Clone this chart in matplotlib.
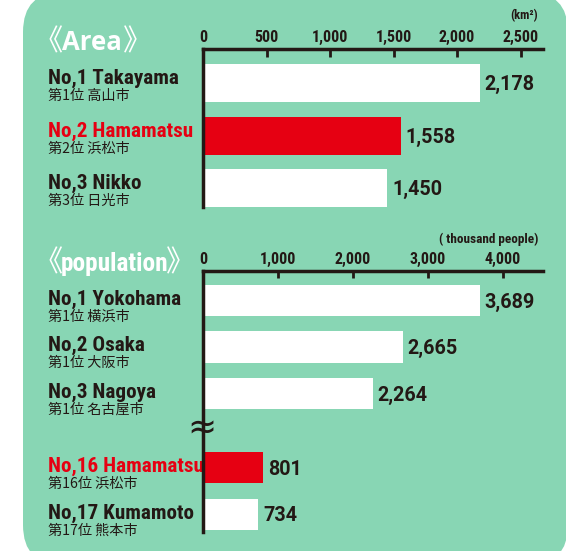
import matplotlib
matplotlib.use("Agg")
import matplotlib.pyplot as plt
import matplotlib.transforms as mtransforms
from matplotlib.patches import FancyBboxPatch
from matplotlib import font_manager as fm

# ---------------- data ----------------
area_title = "Area"
area_unit = "(km²)"
area_names = ["No,1 Takayama", "No,2 Hamamatsu", "No,3 Nikko"]
area_names_jp = ["第1位 高山市", "第2位 浜松市", "第3位 日光市"]
area_values = [2178, 1558, 1450]
area_ticks = [0, 500, 1000, 1500, 2000, 2500]
area_highlight = [False, True, False]

pop_title = "population"
pop_unit = "( thousand people)"
pop_names = ["No,1 Yokohama", "No,2 Osaka", "No,3 Nagoya", "No,16 Hamamatsu", "No,17 Kumamoto"]
pop_names_jp = ["第1位 横浜市", "第1位 大阪市", "第1位 名古屋市", "第16位 浜松市", "第17位 熊本市"]
pop_values = [3689, 2665, 2264, 801, 734]
pop_ticks = [0, 1000, 2000, 3000, 4000]
pop_highlight = [False, False, False, True, False]

# ---------------- style ----------------
W, H, DPI = 566, 551, 100
GREEN = "#88D6B4"
DARK = "#231815"
RED = "#E60012"


def _is_bold(f):
    w = f.weight
    if isinstance(w, str):
        return "bold" in w.lower() or w.lower() in ("heavy", "black")
    return w >= 600


def _is_narrow(f):
    return (f.stretch in ("condensed", "semi-condensed", "extra-condensed")
            or "Narrow" in f.name or "Condensed" in f.name)


def pick_narrow():
    prefs = ["Roboto Condensed", "Noto Sans", "Liberation Sans Narrow",
             "Open Sans", "DejaVu Sans"]
    cands = [f for f in fm.fontManager.ttflist
             if _is_bold(f) and _is_narrow(f) and f.style == "normal"]
    for p in prefs:
        for f in cands:
            if f.name.startswith(p):
                best = [g for g in cands if g.name == f.name and g.stretch == "condensed"]
                return (best[0] if best else f).fname
    if cands:
        return cands[0].fname
    return None


NARROW_PATH = pick_narrow()


def narrow(size):
    if NARROW_PATH:
        return fm.FontProperties(fname=NARROW_PATH, size=size)
    return fm.FontProperties(family=["Roboto", "DejaVu Sans"], weight="bold",
                             size=size * 0.88)


NUM = dict(family=["Roboto", "DejaVu Sans"], weight="bold")
JP = dict(family=["Noto Sans CJK JP", "DejaVu Sans"])
TITLE = dict(family=["Open Sans", "DejaVu Sans"], weight="bold")

fig = plt.figure(figsize=(W / DPI, H / DPI), dpi=DPI)
fig.patch.set_facecolor("white")

bg = fig.add_axes([0, 0, 1, 1])
bg.set_xlim(0, W)
bg.set_ylim(H, 0)
bg.axis("off")
bg.add_patch(FancyBboxPatch((23, -8), 545, 573,
                            boxstyle="round,pad=0,rounding_size=40",
                            fc=GREEN, ec="none"))


def pbox(x0, y0, x1, y1):
    return [x0 / W, 1 - y1 / H, (x1 - x0) / W, (y1 - y0) / H]


def panel(x0, y0, x1, y1, px_per_unit, pos, pos_top, pos_bottom, bar_h,
          values, ticks, names, names_jp, highlight, name_dy, jp_dy, tick_len):
    ax = fig.add_axes(pbox(x0, y0, x1, y1))
    ax.set_xlim(0, (x1 - x0) / px_per_unit)
    ax.set_ylim(pos_bottom, pos_top)
    ax.patch.set_alpha(0)
    for s in ("right", "bottom"):
        ax.spines[s].set_visible(False)
    for s in ("top", "left"):
        ax.spines[s].set_linewidth(2.5)
        ax.spines[s].set_color(DARK)
    ax.set_yticks([])
    ax.xaxis.tick_top()
    ax.set_xticks(ticks)
    ax.set_xticklabels([f"{t:,}" for t in ticks])
    ax.tick_params(axis="x", direction="in", length=tick_len, width=2.0,
                   color=DARK, pad=3.2, labelcolor=DARK)
    for lab in ax.get_xticklabels():
        lab.set_fontproperties(narrow(11.5))

    colors = [RED if h else "white" for h in highlight]
    ax.barh(pos, values, height=bar_h, color=colors, edgecolor="none", zorder=2)

    for p, v in zip(pos, values):
        ax.annotate(f"{v:,}", (v, p), xytext=(5, -7), textcoords="offset pixels",
                    ha="left", va="baseline", fontsize=14.2, color=DARK,
                    annotation_clip=False, **NUM)

    trans = mtransforms.blended_transform_factory(bg.transData, ax.transData)
    for p, n, nj, h in zip(pos, names, names_jp, highlight):
        t1 = mtransforms.offset_copy(trans, fig=fig, y=-name_dy, units="dots")
        bg.text(48, p, n, transform=t1, ha="left", va="baseline",
                fontproperties=narrow(15.2), color=RED if h else DARK)
        t2 = mtransforms.offset_copy(trans, fig=fig, y=-jp_dy, units="dots")
        bg.text(48, p, nj, transform=t2, ha="left", va="baseline",
                fontsize=10.2, color=DARK, **JP)
    return ax


ax1 = panel(203, 49, 543, 207, 0.127, list(range(len(area_values))),
            -0.648, 2.362, 0.724, area_values, area_ticks, area_names,
            area_names_jp, area_highlight, 1, 17, 5.8)

pop_pos = [0, 1, 2, 3.6, 4.6]
ax2 = panel(203, 271, 543, 532, 0.075, pop_pos, -0.634, 4.978, 0.667,
            pop_values, pop_ticks, pop_names, pop_names_jp, pop_highlight,
            4, 20, 5.2)

# titles
bg.text(48, 42, "《", ha="center", va="center", fontsize=21, color="white", **JP)
bg.text(62, 50, area_title, ha="left", va="baseline", fontsize=18.5,
        color="white", **TITLE)
bg.text(138, 42, "》", ha="center", va="center", fontsize=21, color="white", **JP)

bg.text(48, 263, "《", ha="center", va="center", fontsize=21, color="white", **JP)
bg.text(61, 271, pop_title, ha="left", va="baseline",
        fontproperties=narrow(18.3), color="white")
bg.text(181, 263, "》", ha="center", va="center", fontsize=21, color="white", **JP)

# units
bg.text(538, 16, area_unit, ha="right", va="center", fontproperties=narrow(9),
        color=DARK)
bg.text(538, 239, pop_unit, ha="right", va="center", fontproperties=narrow(9.5),
        color=DARK)

# axis break mark
bg.text(201.5, 429, "≈", ha="center", va="center", fontsize=25, color=DARK,
        family="DejaVu Sans")

fig.savefig("out.png", dpi=DPI, facecolor="white")
